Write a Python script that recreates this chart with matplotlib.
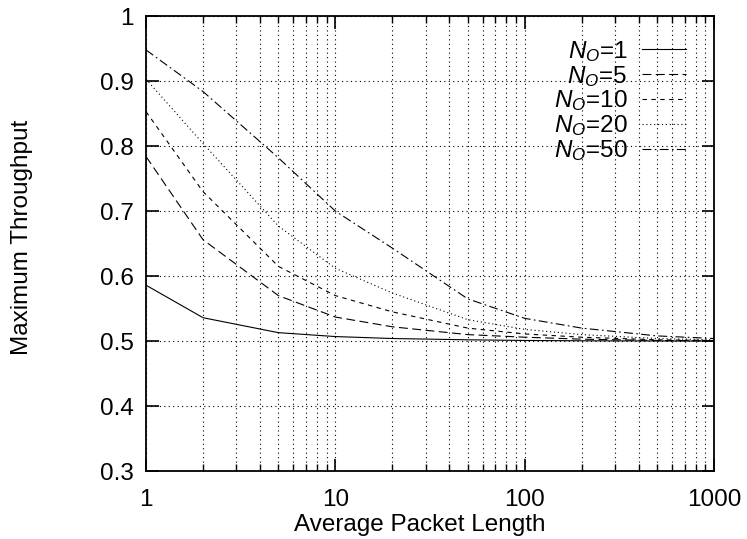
import matplotlib
matplotlib.use("Agg")
import matplotlib.pyplot as plt
from matplotlib.ticker import FuncFormatter, LogLocator, MultipleLocator, NullFormatter

plt.rcParams["font.family"] = ["Liberation Sans", "DejaVu Sans"]
plt.rcParams["mathtext.fontset"] = "custom"
plt.rcParams["mathtext.rm"] = "Liberation Sans"
plt.rcParams["mathtext.it"] = "Liberation Sans:italic"

# Average packet length (log axis)
packet_length = [1, 2, 5, 10, 20, 50, 100, 200, 500, 1000]

# Maximum throughput for each number of observers N_O
thr_n1 = [0.586, 0.536, 0.513, 0.507, 0.504, 0.502, 0.501, 0.5005, 0.5002, 0.5001]
thr_n5 = [0.784, 0.656, 0.570, 0.537, 0.522, 0.510, 0.506, 0.503, 0.501, 0.5005]
thr_n10 = [0.853, 0.730, 0.615, 0.570, 0.545, 0.520, 0.511, 0.506, 0.502, 0.501]
thr_n20 = [0.903, 0.804, 0.677, 0.612, 0.574, 0.533, 0.518, 0.510, 0.504, 0.502]
thr_n50 = [0.948, 0.884, 0.782, 0.700, 0.643, 0.565, 0.535, 0.520, 0.508, 0.504]

series_labels = [r"$N_O$=1", r"$N_O$=5", r"$N_O$=10", r"$N_O$=20", r"$N_O$=50"]
series_values = [thr_n1, thr_n5, thr_n10, thr_n20, thr_n50]
dash_styles = ["-", (0, (8, 4)), (0, (4, 4)), (0, (1, 2.5)), (0, (8, 3, 1.5, 3))]

FS = 17.5

fig = plt.figure(figsize=(7.47, 5.39), dpi=100)
ax = fig.add_axes([0.1955, 0.126, 0.7605, 0.844])

for label, values, ls in zip(series_labels, series_values, dash_styles):
    ax.plot(packet_length, values, color="black", linewidth=0.8, linestyle=ls, label=label)

ax.set_xscale("log")
ax.set_xlim(1, 1000)
ax.set_ylim(0.3, 1.0)

ax.xaxis.set_major_locator(LogLocator(base=10))
ax.xaxis.set_minor_locator(LogLocator(base=10, subs=range(2, 10)))
ax.xaxis.set_minor_formatter(NullFormatter())
ax.xaxis.set_major_formatter(FuncFormatter(lambda v, p: "%g" % v))
ax.yaxis.set_major_locator(MultipleLocator(0.1))
ax.yaxis.set_major_formatter(FuncFormatter(lambda v, p: "%g" % round(v, 2)))

ax.tick_params(which="major", direction="in", length=9, width=1.2,
               top=True, right=True, labelsize=FS, colors="black")
ax.tick_params(axis="y", which="major", pad=9)
ax.tick_params(axis="x", which="major", pad=13)
ax.tick_params(which="minor", direction="in", length=5, width=1.0,
               top=True, right=True)

grid_style = dict(color="black", linestyle=(0, (1, 3)), linewidth=0.8)
ax.grid(True, which="major", axis="both", **grid_style)
ax.grid(True, which="minor", axis="x", **grid_style)
ax.set_axisbelow(True)

for spine in ax.spines.values():
    spine.set_linewidth(1.3)

ax.set_xlabel("Average Packet Length", fontsize=FS, labelpad=2)
ax.xaxis.label.set_x(0.481)
ax.set_ylabel("Maximum Throughput", fontsize=FS, labelpad=48)
ax.yaxis.label.set_y(0.514)

leg = ax.legend(loc="upper right", bbox_to_anchor=(0.971, 0.977), frameon=False,
                markerfirst=False, fontsize=FS, handlelength=1.77, handletextpad=0.62,
                labelspacing=0.0, borderpad=0.0)
for t in leg.get_texts():
    t.set_ha("right")

fig.savefig("out.png", dpi=100)
